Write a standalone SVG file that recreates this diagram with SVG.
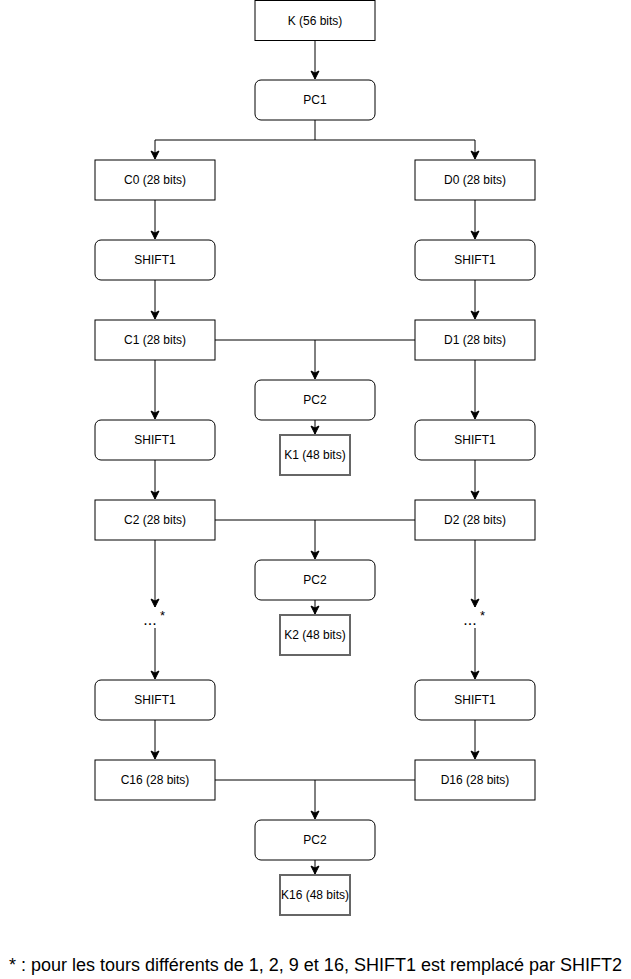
<svg xmlns="http://www.w3.org/2000/svg" width="631" height="979" viewBox="0 0 631 979">
<style>
.box{fill:#fff;stroke:#000;stroke-width:1}
.key{fill:#fff;stroke:#666;stroke-width:2}
.lbl{font-family:"Liberation Sans",Arial,Helvetica,sans-serif;font-size:12px;fill:#000;text-anchor:middle;dominant-baseline:central}
.edge{fill:none;stroke:#000;stroke-width:1;marker-end:url(#arr)}
.join{fill:none;stroke:#000;stroke-width:1}
.dots{font-family:"Liberation Sans",Arial,Helvetica,sans-serif;font-size:16px;fill:#000;text-anchor:middle}
.star{font-family:"Liberation Sans",Arial,Helvetica,sans-serif;font-size:13px;fill:#000;text-anchor:middle}
.note{font-family:"Liberation Sans",Arial,Helvetica,sans-serif;font-size:18px;fill:#000;text-anchor:middle}
</style>
<defs>
<marker id="arr" markerUnits="userSpaceOnUse" markerWidth="12" markerHeight="12" viewBox="-10 -6 12 12" refX="0" refY="0" orient="auto">
<path d="M-8,-4 L0,0 L-8,4 L-6,0 Z" fill="#000" stroke="#000" stroke-width="1"/>
</marker>
</defs>
<rect width="631" height="979" fill="#fff"/>
<g id="connectors">
<path class="edge" d="M315,40.5 V79"/>
<path class="edge" d="M315,120 V140 H155 V159"/>
<path class="edge" d="M315,140 H475 V159"/>
<path class="edge" d="M155,200 V239"/>
<path class="edge" d="M475,200 V239"/>
<path class="edge" d="M155,280 V319"/>
<path class="edge" d="M475,280 V319"/>
<path class="edge" d="M215,340 H315 V379"/>
<path class="join" d="M415,340 H315"/>
<path class="edge" d="M315,420 V434"/>
<path class="edge" d="M155,360 V419"/>
<path class="edge" d="M475,360 V419"/>
<path class="edge" d="M155,460 V499"/>
<path class="edge" d="M475,460 V499"/>
<path class="edge" d="M215,520 H315 V559"/>
<path class="join" d="M415,520 H315"/>
<path class="edge" d="M315,600 V614"/>
<path class="edge" d="M155,540 V607"/>
<path class="edge" d="M475,540 V607"/>
<path class="edge" d="M155,628 V679"/>
<path class="edge" d="M475,628 V679"/>
<path class="edge" d="M155,720 V759"/>
<path class="edge" d="M475,720 V759"/>
<path class="edge" d="M215,780 H315 V819"/>
<path class="join" d="M415,780 H315"/>
<path class="edge" d="M315,860 V874"/>
</g>
<g id="k56"><rect class="box" x="255" y="0.5" width="120" height="40"/><text class="lbl" x="315" y="20.5">K (56 bits)</text></g>
<g id="pc1"><rect class="box" x="255" y="80" width="120" height="40" rx="6"/><text class="lbl" x="315" y="100">PC1</text></g>
<g id="c0"><rect class="box" x="95" y="160" width="120" height="40"/><text class="lbl" x="155" y="180">C0 (28 bits)</text></g>
<g id="d0"><rect class="box" x="415" y="160" width="120" height="40"/><text class="lbl" x="475" y="180">D0 (28 bits)</text></g>
<g id="shiftc1"><rect class="box" x="95" y="240" width="120" height="40" rx="6"/><text class="lbl" x="155" y="260">SHIFT1</text></g>
<g id="shiftd1"><rect class="box" x="415" y="240" width="120" height="40" rx="6"/><text class="lbl" x="475" y="260">SHIFT1</text></g>
<g id="c1"><rect class="box" x="95" y="320" width="120" height="40"/><text class="lbl" x="155" y="340">C1 (28 bits)</text></g>
<g id="d1"><rect class="box" x="415" y="320" width="120" height="40"/><text class="lbl" x="475" y="340">D1 (28 bits)</text></g>
<g id="pc2a"><rect class="box" x="255" y="380" width="120" height="40" rx="6"/><text class="lbl" x="315" y="400">PC2</text></g>
<g id="k1"><rect class="key" x="280" y="435" width="70" height="40"/><text class="lbl" x="315" y="455">K1 (48 bits)</text></g>
<g id="shiftc2"><rect class="box" x="95" y="420" width="120" height="40" rx="6"/><text class="lbl" x="155" y="440">SHIFT1</text></g>
<g id="shiftd2"><rect class="box" x="415" y="420" width="120" height="40" rx="6"/><text class="lbl" x="475" y="440">SHIFT1</text></g>
<g id="c2"><rect class="box" x="95" y="500" width="120" height="40"/><text class="lbl" x="155" y="520">C2 (28 bits)</text></g>
<g id="d2"><rect class="box" x="415" y="500" width="120" height="40"/><text class="lbl" x="475" y="520">D2 (28 bits)</text></g>
<g id="pc2b"><rect class="box" x="255" y="560" width="120" height="40" rx="6"/><text class="lbl" x="315" y="580">PC2</text></g>
<g id="k2"><rect class="key" x="280" y="615" width="70" height="40"/><text class="lbl" x="315" y="635">K2 (48 bits)</text></g>
<g id="dotsc"><text class="dots" x="150" y="625">...</text><text class="star" x="162.5" y="620">*</text></g>
<g id="dotsd"><text class="dots" x="470" y="625">...</text><text class="star" x="482.5" y="620">*</text></g>
<g id="shiftc16"><rect class="box" x="95" y="680" width="120" height="40" rx="6"/><text class="lbl" x="155" y="700">SHIFT1</text></g>
<g id="shiftd16"><rect class="box" x="415" y="680" width="120" height="40" rx="6"/><text class="lbl" x="475" y="700">SHIFT1</text></g>
<g id="c16"><rect class="box" x="95" y="760" width="120" height="40"/><text class="lbl" x="155" y="780">C16 (28 bits)</text></g>
<g id="d16"><rect class="box" x="415" y="760" width="120" height="40"/><text class="lbl" x="475" y="780">D16 (28 bits)</text></g>
<g id="pc2c"><rect class="box" x="255" y="820" width="120" height="40" rx="6"/><text class="lbl" x="315" y="840">PC2</text></g>
<g id="k16"><rect class="key" x="280" y="875" width="70" height="40"/><text class="lbl" x="315" y="895">K16 (48 bits)</text></g>
<g id="footnote"><text class="note" x="315.5" y="971">* : pour les tours différents de 1, 2, 9 et 16, SHIFT1 est remplacé par SHIFT2</text></g>
</svg>
